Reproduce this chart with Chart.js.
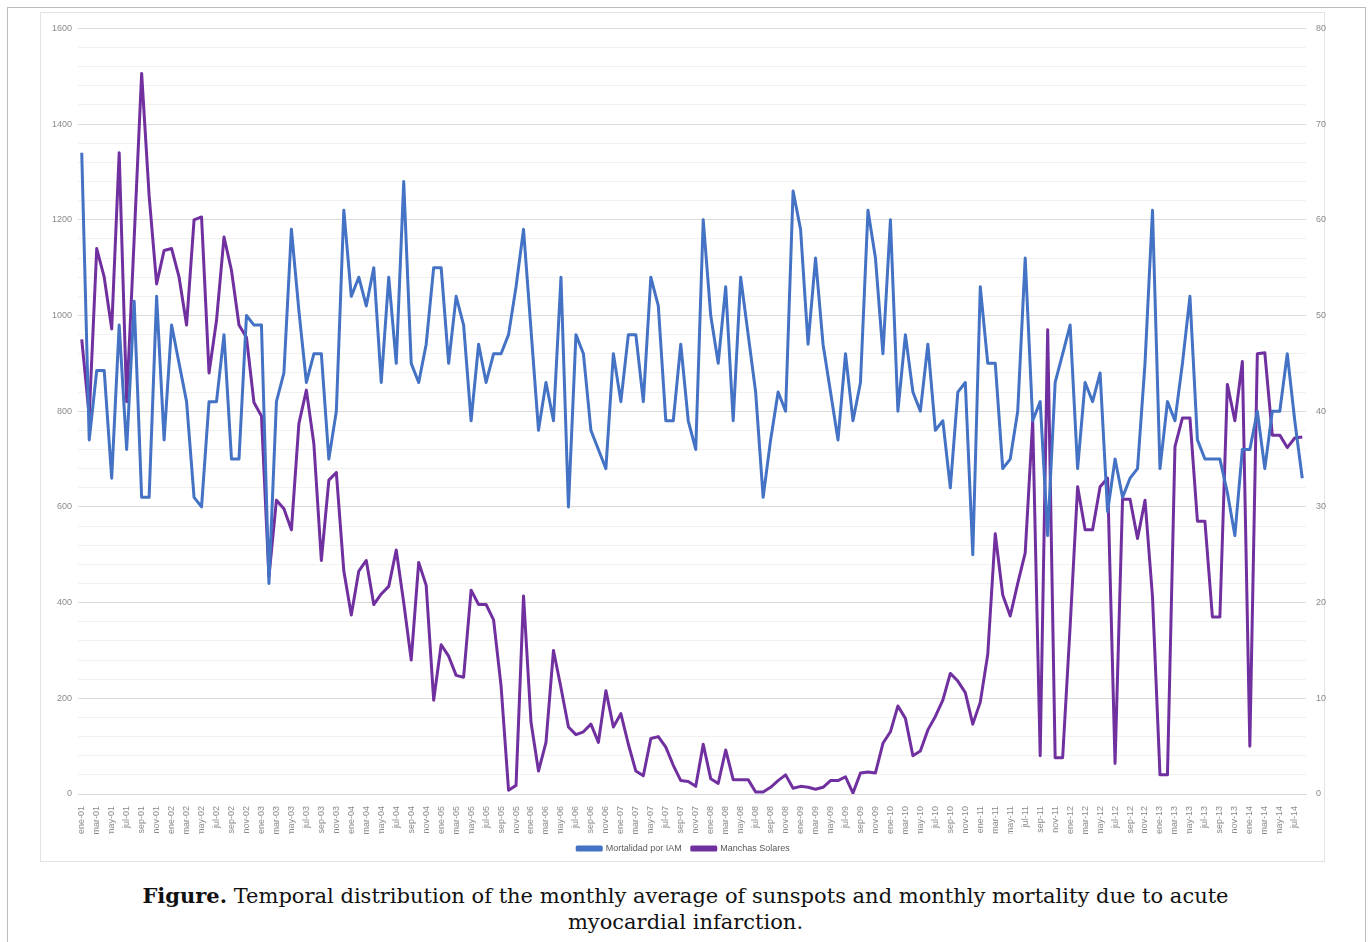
<!DOCTYPE html>
<html>
<head>
<meta charset="utf-8">
<script src="https://cdn.jsdelivr.net/npm/chart.js@4"></script>
<style>
  body { margin: 0; background: #fff; }
  .frame { position: absolute; left: 7px; top: 7px; width: 1357px; height: 940px; border: 1px solid #bcbcbc; border-bottom: none; }
  .box { position: absolute; left: 40px; top: 12px; width: 1285px; height: 850px; border: 1px solid #e2e2e2; box-sizing: border-box; }
  .caption { position: absolute; left: 0; top: 883px; width: 1371px; text-align: center; font-family: "DejaVu Serif", serif; font-size: 21px; line-height: 26px; color: #111; }
</style>
</head>
<body>
<div class="frame"></div>
<div class="box"><canvas id="iamChart" width="1285" height="850"></canvas></div>
<div class="caption"><b>Figure.</b> Temporal distribution of the monthly average of sunspots and monthly mortality due to acute<br>myocardial infarction.</div>
<script>
const months = ['ene', 'feb', 'mar', 'abr', 'may', 'jun', 'jul', 'ago', 'sep', 'oct', 'nov', 'dic'];
const years = ['01', '02', '03', '04', '05', '06', '07', '08', '09', '10', '11', '12', '13', '14'];
const lastMonth = 'ago-14';

const categories = [];
years.forEach(y => months.forEach(m => categories.push(m + '-' + y)));
categories.length = categories.indexOf(lastMonth) + 1;

// Mortalidad por IAM (eje izquierdo)
const mortalidad = [
  1340, 740, 885, 885, 660, 980, 720, 1030, 620, 620, 1040, 740,
  980, 900, 820, 620, 600, 820, 820, 960, 700, 700, 1000, 980,
  980, 440, 820, 880, 1180, 1010, 860, 920, 920, 700, 800, 1220,
  1040, 1080, 1020, 1100, 860, 1080, 900, 1280, 900, 860, 940, 1100,
  1100, 900, 1040, 980, 780, 940, 860, 920, 920, 960, 1060, 1180,
  970, 760, 860, 780, 1080, 600, 960, 920, 760, 720, 680, 920,
  820, 960, 960, 820, 1080, 1020, 780, 780, 940, 780, 720, 1200,
  1000, 900, 1060, 780, 1080, 960, 840, 620, 740, 840, 800, 1260,
  1180, 940, 1120, 940, 840, 740, 920, 780, 860, 1220, 1120, 920,
  1200, 800, 960, 840, 800, 940, 760, 780, 640, 840, 860, 500,
  1060, 900, 900, 680, 700, 800, 1120, 780, 820, 540, 860, 920,
  980, 680, 860, 820, 880, 590, 700, 620, 660, 680, 900, 1220,
  680, 820, 780, 900, 1040, 740, 700, 700, 700, 630, 540, 720,
  720, 800, 680, 800, 800, 920, 780, 660
];

// Manchas solares (eje derecho)
const manchas = [
  47.5, 39.5, 57, 54, 48.6, 67, 41, 58, 75.3, 62.5, 53.3, 56.8,
  57, 54, 49, 60, 60.3, 44, 49.5, 58.2, 54.7, 49, 47.7, 40.9,
  39.5, 22.7, 30.7, 29.8, 27.6, 38.7, 42.2, 36.6, 24.4, 32.8, 33.6, 23.3,
  18.7, 23.3, 24.4, 19.8, 20.9, 21.7, 25.5, 20, 14, 24.2, 21.8, 9.8,
  15.6, 14.4, 12.4, 12.2, 21.3, 19.8, 19.8, 18.2, 11.3, 0.4, 0.9, 20.7,
  7.5, 2.4, 5.4, 15, 11.1, 7, 6.2, 6.5, 7.3, 5.4, 10.8, 7,
  8.4, 5.2, 2.4, 1.9, 5.8, 6, 4.9, 3, 1.4, 1.3, 0.8, 5.2,
  1.6, 1.1, 4.6, 1.5, 1.5, 1.5, 0.2, 0.2, 0.7, 1.4, 2, 0.6,
  0.8, 0.7, 0.5, 0.7, 1.4, 1.4, 1.8, 0.1, 2.2, 2.3, 2.2, 5.3,
  6.5, 9.2, 7.9, 4, 4.5, 6.7, 8.1, 9.8, 12.6, 11.8, 10.6, 7.3,
  9.6, 14.6, 27.2, 20.8, 18.6, 22, 25.2, 39, 4, 48.5, 3.8, 3.8,
  17.5, 32.1, 27.6, 27.6, 32.1, 33, 3.2, 30.8, 30.8, 26.7, 30.7, 20.6,
  2, 2, 36.3, 39.3, 39.3, 28.5, 28.5, 18.5, 18.5, 42.8, 39, 45.2,
  5, 46, 46.1, 37.5, 37.5, 36.2, 37.2, 37.3
];

const tickColor = '#8a8a8a';
const tickFont = { family: 'Liberation Sans', size: 9 };

new Chart(document.getElementById('iamChart').getContext('2d'), {
  type: 'line',
  data: {
    labels: categories,
    datasets: [{
      label: 'Mortalidad por IAM',
      data: mortalidad,
      borderColor: '#4472C4',
      backgroundColor: '#4472C4',
      borderWidth: 3,
      yAxisID: 'y'
    }, {
      label: 'Manchas Solares',
      data: manchas,
      borderColor: '#7030A0',
      backgroundColor: '#7030A0',
      borderWidth: 3,
      yAxisID: 'y1'
    }]
  },
  options: {
    responsive: false,
    animation: false,
    elements: { point: { radius: 0 }, line: { tension: 0, borderJoinStyle: 'round' } },
    layout: { padding: { top: 15, bottom: 0, left: 0, right: 0 } },
    plugins: {
      legend: {
        position: 'bottom',
        labels: { boxWidth: 24, boxHeight: 3, padding: 10, color: '#595959', font: tickFont }
      },
      tooltip: { enabled: false }
    },
    scales: {
      x: {
        offset: true,
        grid: { display: false },
        border: { color: '#d9d9d9' },
        ticks: {
          autoSkip: false, minRotation: 90, maxRotation: 90, padding: 4,
          color: tickColor, font: tickFont,
          callback: (v, i) => i % 2 === 0 ? categories[i] : ''
        },
        afterFit: s => { s.height = 40; }
      },
      y: {
        position: 'left',
        min: 0, max: 1600,
        border: { display: false },
        grid: { drawTicks: false, color: c => c.tick.value % 200 === 0 ? '#dadada' : '#f1f1f1' },
        ticks: {
          stepSize: 40, autoSkip: false, padding: 6, color: tickColor, font: tickFont,
          callback: v => v % 200 === 0 ? v : ''
        },
        afterFit: s => { s.width = 37; }
      },
      y1: {
        position: 'right',
        min: 0, max: 80,
        border: { display: false },
        grid: { drawOnChartArea: false, drawTicks: false },
        ticks: { stepSize: 10, padding: 10, color: tickColor, font: tickFont },
        afterFit: s => { s.width = 20; }
      }
    }
  }
});
</script>
</body>
</html>
